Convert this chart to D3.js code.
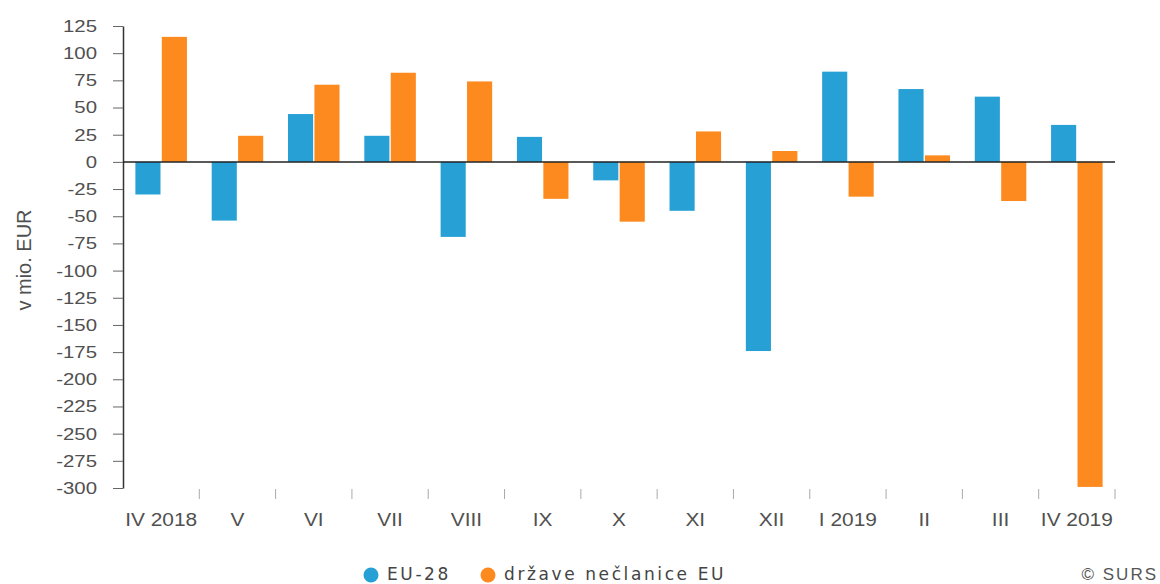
<!DOCTYPE html>
<html lang="sl">
<head>
    <meta charset="UTF-8">
    <title>EU-28 in države nečlanice EU</title>
    <style>
        body { margin: 0; background: #fff; }
        .tick text { font-family: "Liberation Sans", Arial, sans-serif; fill: #505050; }
        .legend text { font-family: "DejaVu Sans", Verdana, sans-serif; fill: #444; }
    </style>
</head>
<body>
    <div id="chart"></div>
    <script src="https://d3js.org/d3.v7.min.js"></script>
    <script>
        // data (v mio. EUR)
        const months = ["IV 2018", "V", "VI", "VII", "VIII", "IX", "X", "XI", "XII", "I 2019", "II", "III", "IV 2019"];
        const eu28 = [-30, -54, 44, 24, -69, 23, -17, -45, -174, 83, 67, 60, 34];
        const nonEU = [115, 24, 71, 82, 74, -34, -55, 28, 10, -32, 6, -36, -299];
        const seriesNames = ["EU-28", "države nečlanice EU"];
        const colors = ["#26a0d5", "#fc8a1e"];
        const yTicks = d3.range(-300, 126, 25);

        const W = 1160, H = 584;
        const plotLeft = 123, plotRight = 1115, plotTop = 26, plotBottom = 488;

        const svg = d3.select("#chart").append("svg")
            .attr("width", W)
            .attr("height", H);

        const x0 = d3.scaleBand()
            .domain(months)
            .range([plotLeft, plotRight])
            .paddingInner(0.29)
            .paddingOuter(0.145);

        const x1 = d3.scaleBand()
            .domain(seriesNames)
            .range([0, x0.bandwidth()])
            .padding(0.05);

        const y = d3.scaleLinear()
            .domain([-300, 125])
            .range([plotBottom, plotTop]);

        const rows = months.map((m, i) => ({ month: m, values: [eu28[i], nonEU[i]] }));

        // y axis
        const yAxis = svg.append("g")
            .attr("transform", `translate(${plotLeft},0)`)
            .call(d3.axisLeft(y).tickValues(yTicks).tickFormat(d => String(d))
                .tickSize(10).tickSizeOuter(0).tickPadding(11.7));
        yAxis.select(".domain").attr("stroke", "#333").attr("stroke-width", 1.5);
        yAxis.selectAll(".tick line").attr("stroke", "#666");
        yAxis.selectAll(".tick text")
            .style("font-size", "17px")
            .attr("transform", "scale(1.2,1)");

        // x axis: labels at band centres, ticks at band boundaries
        const xAxis = svg.append("g")
            .attr("transform", `translate(0,${plotBottom})`)
            .call(d3.axisBottom(x0).tickSize(0).tickPadding(25));
        xAxis.select(".domain").remove();
        xAxis.selectAll(".tick text")
            .style("font-size", "19px")
            .attr("transform", "scale(1.1,1)");

        svg.append("g")
            .selectAll("line")
            .data(months)
            .join("line")
            .attr("x1", d => x0(d) + x0.bandwidth() / 2 + x0.step() / 2)
            .attr("x2", d => x0(d) + x0.bandwidth() / 2 + x0.step() / 2)
            .attr("y1", plotBottom + 1)
            .attr("y2", plotBottom + 11)
            .attr("stroke", "#aaa")
            .attr("stroke-width", 1);

        // bars
        const groups = svg.append("g")
            .selectAll("g")
            .data(rows)
            .join("g")
            .attr("transform", d => `translate(${x0(d.month)},0)`);

        groups.selectAll("rect")
            .data(d => d.values.map((v, i) => ({ key: seriesNames[i], value: v, i: i })))
            .join("rect")
            .attr("x", d => x1(d.key))
            .attr("width", x1.bandwidth())
            .attr("y", d => Math.min(y(d.value), y(0)))
            .attr("height", d => Math.abs(y(d.value) - y(0)))
            .attr("fill", d => colors[d.i]);

        // zero line
        svg.append("line")
            .attr("x1", plotLeft)
            .attr("x2", plotRight)
            .attr("y1", y(0))
            .attr("y2", y(0))
            .attr("stroke", "#222")
            .attr("stroke-width", 1.5);

        // y title
        svg.append("text")
            .attr("transform", `translate(31,260) rotate(-90)`)
            .attr("text-anchor", "middle")
            .style("font-family", "Liberation Sans, Arial, sans-serif")
            .style("font-size", "20px")
            .style("fill", "#505050")
            .text("v mio. EUR");

        // legend
        const legend = svg.append("g").attr("class", "legend");
        const legendX = [371, 488];
        seriesNames.forEach((name, i) => {
            legend.append("circle")
                .attr("cx", legendX[i])
                .attr("cy", 575)
                .attr("r", 7.5)
                .attr("fill", colors[i]);
            legend.append("text")
                .attr("x", legendX[i] + 16)
                .attr("y", 580)
                .style("font-size", "17px")
                .style("letter-spacing", "2.6px")
                .text(name);
        });

        // source
        svg.append("text")
            .attr("x", 1158)
            .attr("y", 580)
            .attr("text-anchor", "end")
            .style("font-family", "Liberation Sans, Arial, sans-serif")
            .style("font-size", "17px")
            .style("letter-spacing", "2px")
            .style("fill", "#555")
            .text("© SURS");
    </script>
</body>
</html>
